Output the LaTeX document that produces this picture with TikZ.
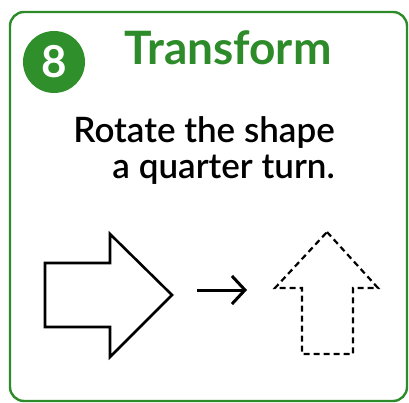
\documentclass[tikz,border=0pt]{standalone}
\usepackage{fontspec}
\setmainfont{Lato}
\newfontfamily\bodyfont{Lato Semibold}
\usetikzlibrary{arrows.meta}
\definecolor{framegreen}{HTML}{2E8B2A}
\definecolor{badgegreen}{HTML}{2F8F2A}

\begin{document}
\begin{tikzpicture}[x=1pt, y=-1pt, every node/.style={inner sep=0pt},
  titletext/.style={font=\fontsize{46}{46}\selectfont\bfseries, text=framegreen},
  bodytext/.style={font=\bodyfont\fontsize{35}{35}\selectfont},
  shapeline/.style={line width=2.6pt, line join=miter}]
\useasboundingbox (0,0) rectangle (409,403);
\fill[white] (0,0) rectangle (409,403);
\draw[framegreen, line width=2.4pt, rounded corners=14pt] (10,12) rectangle (407,401);
\node[circle, fill=badgegreen, minimum size=62pt] (badge) at (54,62) {};
\node[font=\fontsize{44}{44}\selectfont\bfseries, text=white] (num) at (badge.center) {8};
\node[titletext, anchor=base west] (title) at (124,65) {Transform};
\node[bodytext, anchor=base east] (line1) at (335,143) {Rotate the shape};
\node[bodytext, anchor=base east] (line2) at (335,179) {a quarter turn.};
% shape before and after the turn
\draw[shapeline] (45,263) -- (110,263) -- (110,234) -- (172,295) -- (110,357) -- (110,327) -- (45,327) -- cycle;
\draw[shapeline, line width=2.2pt, dash pattern=on 6pt off 4pt] (327,232) -- (378,288) -- (353,288) -- (353,354) -- (302,354) -- (302,288) -- (275,288) -- cycle;
\coordinate (from) at (197,290);
\coordinate (to) at (247,290);
\draw[line width=3pt, -{Straight Barb[length=13pt, width=28pt, line width=3pt]}] (from) -- (to);
\end{tikzpicture}
\end{document}
